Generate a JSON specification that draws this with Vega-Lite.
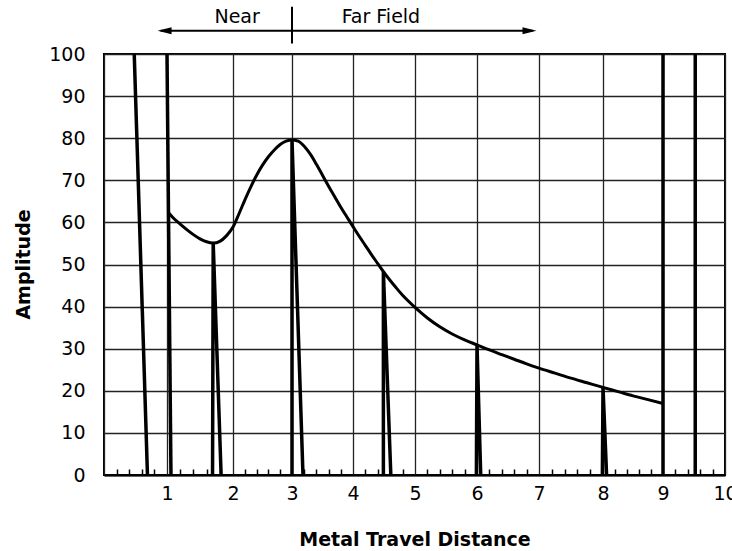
{
  "$schema": "https://vega.github.io/schema/vega-lite/v6.json",
  "autosize": {"type": "none"},
  "width": 621,
  "height": 421,
  "padding": {"left": 104, "top": 54, "right": 7, "bottom": 76},
  "background": "white",
  "config": {
    "view": {"stroke": "black", "strokeWidth": 2},
    "font": "DejaVu Sans"
  },
  "datasets": {
    "curve": [
      {"x": 1.03, "y": 62.2}, {"x": 1.1, "y": 61.0}, {"x": 1.2, "y": 59.6}, {"x": 1.3, "y": 58.3},
      {"x": 1.4, "y": 57.1}, {"x": 1.5, "y": 56.1}, {"x": 1.6, "y": 55.4}, {"x": 1.7, "y": 55.1},
      {"x": 1.8, "y": 55.5}, {"x": 1.9, "y": 56.8}, {"x": 2.0, "y": 58.9}, {"x": 2.1, "y": 62.0},
      {"x": 2.2, "y": 65.3}, {"x": 2.3, "y": 68.4}, {"x": 2.4, "y": 71.2}, {"x": 2.5, "y": 73.6},
      {"x": 2.6, "y": 75.6}, {"x": 2.7, "y": 77.2}, {"x": 2.8, "y": 78.5}, {"x": 2.9, "y": 79.3},
      {"x": 3.0, "y": 79.6}, {"x": 3.1, "y": 79.3}, {"x": 3.2, "y": 78.1}, {"x": 3.3, "y": 76.2},
      {"x": 3.4, "y": 73.8}, {"x": 3.5, "y": 71.2}, {"x": 3.6, "y": 68.6}, {"x": 3.7, "y": 66.1},
      {"x": 3.8, "y": 63.6}, {"x": 3.9, "y": 61.3}, {"x": 4.0, "y": 59.0}, {"x": 4.1, "y": 56.7},
      {"x": 4.2, "y": 54.5}, {"x": 4.3, "y": 52.3}, {"x": 4.4, "y": 50.2}, {"x": 4.5, "y": 48.1},
      {"x": 4.6, "y": 46.2}, {"x": 4.7, "y": 44.4}, {"x": 4.8, "y": 42.7}, {"x": 4.9, "y": 41.2},
      {"x": 5.0, "y": 39.8}, {"x": 5.2, "y": 37.3}, {"x": 5.4, "y": 35.2}, {"x": 5.6, "y": 33.5},
      {"x": 5.8, "y": 32.1}, {"x": 6.0, "y": 30.9}, {"x": 6.2, "y": 29.7}, {"x": 6.4, "y": 28.6},
      {"x": 6.6, "y": 27.5}, {"x": 6.8, "y": 26.4}, {"x": 7.0, "y": 25.4}, {"x": 7.25, "y": 24.2},
      {"x": 7.5, "y": 23.0}, {"x": 7.75, "y": 21.9}, {"x": 8.0, "y": 20.8}, {"x": 8.25, "y": 19.8},
      {"x": 8.5, "y": 18.8}, {"x": 8.75, "y": 17.9}, {"x": 9.0, "y": 17.0}
    ],
    "spikes": [
      {"spike": "A", "ord": 0, "x": 0.48, "y": 100}, {"spike": "A", "ord": 1, "x": 0.69, "y": 0},
      {"spike": "B", "ord": 0, "x": 1.0, "y": 100}, {"spike": "B", "ord": 1, "x": 1.06, "y": 0},
      {"spike": "C", "ord": 0, "x": 1.69, "y": 0}, {"spike": "C", "ord": 1, "x": 1.7, "y": 55.1}, {"spike": "C", "ord": 2, "x": 1.82, "y": 0},
      {"spike": "D", "ord": 0, "x": 3.0, "y": 0}, {"spike": "D", "ord": 1, "x": 3.0, "y": 79.6}, {"spike": "D", "ord": 2, "x": 3.18, "y": 0},
      {"spike": "E", "ord": 0, "x": 4.49, "y": 0}, {"spike": "E", "ord": 1, "x": 4.49, "y": 48.3}, {"spike": "E", "ord": 2, "x": 4.61, "y": 0},
      {"spike": "F", "ord": 0, "x": 5.99, "y": 0}, {"spike": "F", "ord": 1, "x": 6.0, "y": 30.9}, {"spike": "F", "ord": 2, "x": 6.06, "y": 0},
      {"spike": "G", "ord": 0, "x": 7.99, "y": 0}, {"spike": "G", "ord": 1, "x": 8.0, "y": 20.8}, {"spike": "G", "ord": 2, "x": 8.06, "y": 0},
      {"spike": "H", "ord": 0, "x": 9.0, "y": 100}, {"spike": "H", "ord": 1, "x": 9.0, "y": 0},
      {"spike": "I", "ord": 0, "x": 9.52, "y": 100}, {"spike": "I", "ord": 1, "x": 9.52, "y": 0}
    ],
    "annot": [
      {"seg": "arrow", "ord": 0, "x": 0.9, "y": 105.5}, {"seg": "arrow", "ord": 1, "x": 6.9, "y": 105.5},
      {"seg": "divider", "ord": 0, "x": 3.0, "y": 111.2}, {"seg": "divider", "ord": 1, "x": 3.0, "y": 102.5}
    ],
    "heads": [
      {"dir": "left", "x": 0.85, "y": 105.5},
      {"dir": "right", "x": 6.96, "y": 105.5}
    ],
    "labels": [
      {"text": "Near", "x": 2.07, "y": 108.7},
      {"text": "Far Field", "x": 4.45, "y": 108.7}
    ]
  },
  "encoding": {
    "x": {
      "field": "x", "type": "quantitative",
      "scale": {"domain": [0, 1, 2, 3, 4, 5, 6, 7, 8, 9, 10], "range": [0, 63, 129, 188, 249, 311, 373, 435, 499, 559, 621], "nice": false, "zero": false},
      "axis": {
        "title": "Metal Travel Distance",
        "values": [0, 0.2, 0.4, 0.6, 0.8, 1, 1.2, 1.4, 1.6, 1.8, 2, 2.2, 2.4, 2.6, 2.8, 3, 3.2, 3.4, 3.6, 3.8, 4, 4.2, 4.4, 4.6, 4.8, 5, 5.2, 5.4, 5.6, 5.8, 6, 6.2, 6.4, 6.6, 6.8, 7, 7.2, 7.4, 7.6, 7.8, 8, 8.2, 8.4, 8.6, 8.8, 9, 9.2, 9.4, 9.6, 9.8, 10],
        "grid": true,
        "gridColor": "#222222",
        "gridWidth": 1.3,
        "gridOpacity": {"condition": {"test": "abs(datum.value - round(datum.value)) < 0.01", "value": 1}, "value": 0},
        "ticks": true,
        "tickSize": -6,
        "tickColor": "black",
        "tickWidth": 1.5,
        "tickOpacity": {"condition": {"test": "abs(datum.value - round(datum.value)) < 0.01", "value": 0}, "value": 1},
        "domain": true,
        "domainColor": "black",
        "domainWidth": 2,
        "labelExpr": "abs(datum.value - round(datum.value)) < 0.01 && datum.value > 0 ? toString(round(datum.value)) : ''",
        "labelOverlap": false,
        "labelFlush": false,
        "labelFont": "DejaVu Sans",
        "labelFontSize": 19,
        "labelColor": "black",
        "labelPadding": 15,
        "titleFont": "DejaVu Sans",
        "titleFontSize": 19,
        "titleFontWeight": "bold",
        "titleColor": "black",
        "titleBaseline": "alphabetic",
        "titleY": 70
      }
    },
    "y": {
      "field": "y", "type": "quantitative",
      "scale": {"domain": [0, 100], "nice": false, "zero": true},
      "axis": {
        "title": "Amplitude",
        "values": [0, 10, 20, 30, 40, 50, 60, 70, 80, 90, 100],
        "grid": true,
        "gridColor": "#222222",
        "gridWidth": 1.3,
        "ticks": false,
        "tickSize": 0,
        "domain": false,
        "labelFlush": false,
        "labelOverlap": false,
        "labelFont": "DejaVu Sans",
        "labelFontSize": 19,
        "labelColor": "black",
        "labelPadding": 19,
        "titleFont": "DejaVu Sans",
        "titleFontSize": 19,
        "titleFontWeight": "bold",
        "titleColor": "black",
        "titleBaseline": "alphabetic",
        "titleX": -75,
        "titleY": 210
      }
    }
  },
  "layer": [
    {
      "data": {"name": "curve"},
      "mark": {"type": "line", "color": "black", "strokeWidth": 3, "interpolate": "monotone"},
      "encoding": {}
    },
    {
      "data": {"name": "spikes"},
      "mark": {"type": "line", "color": "black", "strokeWidth": 3.5, "strokeJoin": "miter"},
      "encoding": {
        "detail": {"field": "spike", "type": "nominal"},
        "order": {"field": "ord", "type": "quantitative"}
      }
    },
    {
      "data": {"name": "annot"},
      "mark": {"type": "line", "color": "black", "strokeWidth": 2},
      "encoding": {
        "detail": {"field": "seg", "type": "nominal"},
        "order": {"field": "ord", "type": "quantitative"}
      }
    },
    {
      "data": {"name": "heads"},
      "mark": {"type": "point", "filled": true, "color": "black", "opacity": 1, "size": 196},
      "encoding": {
        "shape": {"field": "dir", "type": "nominal", "legend": null,
          "scale": {"domain": ["left", "right"], "range": ["M0,0L2,-0.5L2,0.5Z", "M0,0L-2,-0.5L-2,0.5Z"]}}
      }
    },
    {
      "data": {"name": "labels"},
      "mark": {"type": "text", "font": "DejaVu Sans", "fontSize": 19, "color": "black", "align": "center", "baseline": "middle"},
      "encoding": {"text": {"field": "text", "type": "nominal"}}
    }
  ]
}
